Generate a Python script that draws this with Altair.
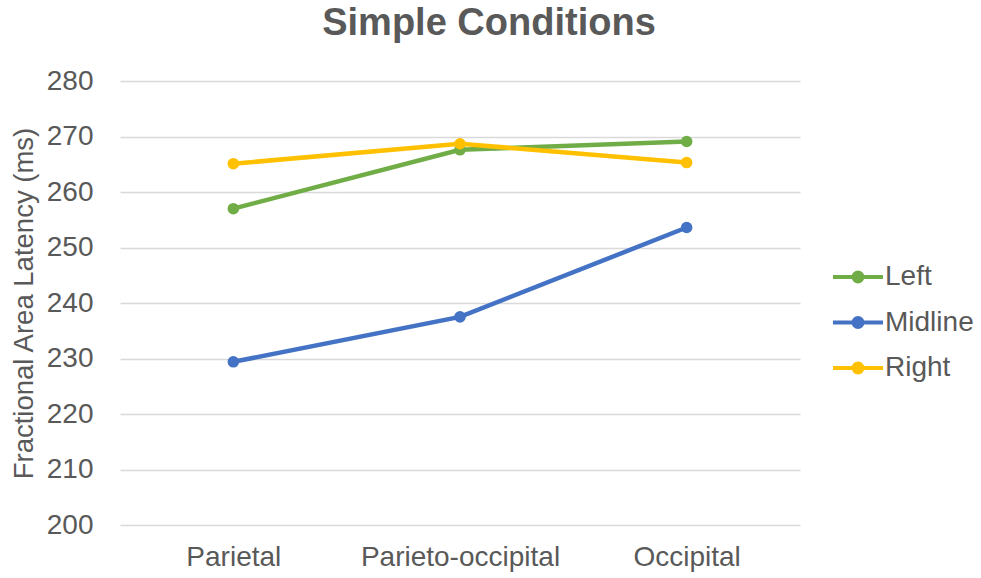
import altair as alt
import pandas as pd

# Mean fractional area latency (ms) per electrode region and hemisphere
regions = ["Parietal", "Parieto-occipital", "Occipital"]
series = ["Left", "Midline", "Right"]
left_vals = [257.0, 267.6, 269.1]
midline_vals = [229.4, 237.5, 253.6]
right_vals = [265.1, 268.7, 265.3]
y_ticks = [200, 210, 220, 230, 240, 250, 260, 270, 280]
colors = ["#70AD47", "#4472C4", "#FFC000"]

rows = []
for name, vals in zip(series, [left_vals, midline_vals, right_vals]):
    for reg, v in zip(regions, vals):
        rows.append({"Region": reg, "Side": name, "Latency": v})
df = pd.DataFrame(rows)

FONT = "Liberation Sans"
GREY = "#595959"

# legend glyph: short line with a dot in the middle
legend_symbol = (
    "M-1,0H1"
    "M-0.18,0A0.18,0.18,0,1,1,0.18,0A0.18,0.18,0,1,1,-0.18,0Z"
    "M-0.06,0A0.06,0.06,0,1,1,0.06,0A0.06,0.06,0,1,1,-0.06,0Z"
)

x_enc = alt.X(
    "Region:N",
    sort=regions,
    scale=alt.Scale(type="point", padding=0.5),
    axis=alt.Axis(
        title=None,
        labelFontSize=28,
        labelColor=GREY,
        labelFont=FONT,
        labelAngle=0,
        labelLimit=0,
        ticks=False,
        domain=False,
        grid=False,
        labelPadding=18,
    ),
)
y_enc = alt.Y(
    "Latency:Q",
    scale=alt.Scale(domain=[200, 280], nice=False, zero=False),
    axis=alt.Axis(
        values=y_ticks,
        title="Fractional Area Latency (ms)",
        titleFontSize=27.5,
        titleFontWeight="normal",
        titleColor=GREY,
        titleFont=FONT,
        titlePadding=8,
        labelFontSize=28,
        labelColor=GREY,
        labelFont=FONT,
        labelPadding=27,
        ticks=False,
        domain=False,
        gridColor="#D9D9D9",
        gridWidth=1.5,
    ),
)
color_enc = alt.Color(
    "Side:N",
    sort=series,
    scale=alt.Scale(domain=series, range=colors),
    legend=alt.Legend(
        title=None,
        orient="none",
        legendX=711,
        legendY=169,
        labelFontSize=28,
        labelColor=GREY,
        labelFont=FONT,
        labelLimit=0,
        symbolType=legend_symbol,
        symbolSize=2500,
        symbolStrokeWidth=4,
        rowPadding=4.5,
        labelOffset=0,
        padding=0,
    ),
)

lines = alt.Chart(df).mark_line(strokeWidth=4.5).encode(
    x=x_enc, y=y_enc, color=color_enc
)
points = alt.Chart(df).mark_circle(size=133, opacity=1).encode(
    x=x_enc,
    y=y_enc,
    color=alt.Color(
        "Side:N", sort=series, scale=alt.Scale(domain=series, range=colors), legend=None
    ),
)

chart = (
    alt.layer(lines, points)
    .properties(
        width=680,
        height=444,
        background="white",
        autosize=alt.AutoSizeParams(type="none"),
        padding={"left": 120, "top": 81, "right": 181, "bottom": 53},
        title=alt.TitleParams(
            "Simple Conditions",
            fontSize=38,
            fontWeight="bold",
            color=GREY,
            font=FONT,
            anchor="middle",
            frame="group",
            dx=29,
            dy=10,
            baseline="alphabetic",
            offset=4,
        ),
    )
    .configure_view(stroke="transparent", strokeWidth=0)
)

chart.save("out.html", embed_options={"renderer": "svg", "actions": False})
